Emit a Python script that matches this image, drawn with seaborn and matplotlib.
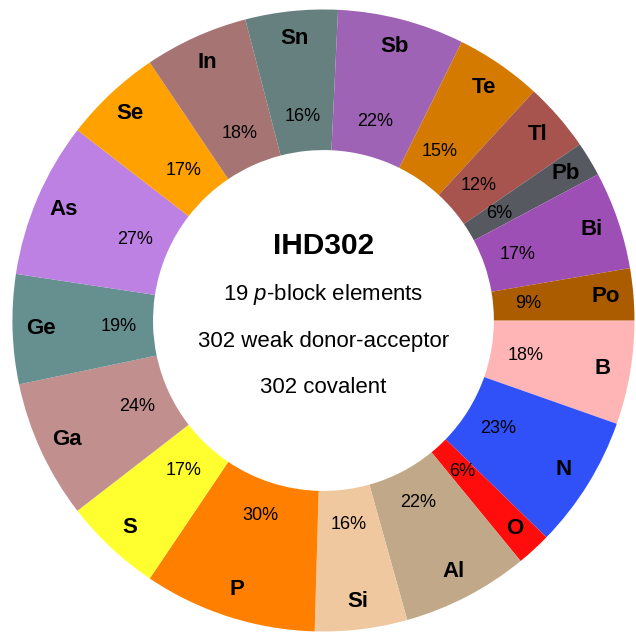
import matplotlib
matplotlib.use("Agg")
import matplotlib.pyplot as plt
import seaborn as sns

elements = ["B", "N", "O", "Al", "Si", "P", "S", "Ga", "Ge", "As",
            "Se", "In", "Sn", "Sb", "Te", "Tl", "Pb", "Bi", "Po"]
percent = [18, 23, 6, 22, 16, 30, 17, 24, 19, 27,
           17, 18, 16, 22, 15, 12, 6, 17, 9]
colors = ["#FFB5B5", "#3050F8", "#FF0D0D", "#C0A888", "#F0C8A0", "#FF8000",
          "#FFFF30", "#C28F8F", "#668F8F", "#BD80E3", "#FFA100", "#A67573",
          "#668080", "#9E63B5", "#D47A00", "#A6544D", "#575961", "#9E4FB5",
          "#AB5C00"]
center_lines = ["IHD302", "19 $\\it{p}$-block elements",
                "302 weak donor-acceptor", "302 covalent"]

sns.set_theme(style="white")
plt.rcParams["font.family"] = ["Liberation Sans", "DejaVu Sans"]
plt.rcParams["mathtext.fontset"] = "custom"
plt.rcParams["mathtext.it"] = "Liberation Sans:italic"
plt.rcParams["mathtext.rm"] = "Liberation Sans"

palette = sns.color_palette(colors)
total = sum(percent)

fig = plt.figure(figsize=(6.36, 6.33), dpi=100)
ax = fig.add_axes([0, 0, 1, 1])

wedges, labels, pcts = ax.pie(
    percent, labels=elements, colors=palette, startangle=0,
    counterclock=False, radius=1.0, labeldistance=0.91, pctdistance=0.66,
    autopct=lambda p: f"{round(p * total / 100)}%",
    wedgeprops=dict(width=0.452, linewidth=0),
    textprops=dict(color="black"))

for t in labels:
    t.set_ha("center")
    t.set_va("center")
    t.set_fontsize(16)
    t.set_fontweight("bold")
for t in pcts:
    t.set_fontsize(13)

ax.text(0, 0.240, center_lines[0], ha="center", va="center",
        fontsize=21.5, fontweight="bold", color="black")
ax.text(0, 0.082, center_lines[1], ha="center", va="center",
        fontsize=16, color="black")
ax.text(0, -0.069, center_lines[2], ha="center", va="center",
        fontsize=16, color="black")
ax.text(0, -0.217, center_lines[3], ha="center", va="center",
        fontsize=16, color="black")

ax.set_xlim(-1.040, 1.005)
ax.set_ylim(-1.0048, 1.0305)
ax.set_aspect("equal")
ax.axis("off")

fig.savefig("out.png", dpi=100, facecolor="white")
